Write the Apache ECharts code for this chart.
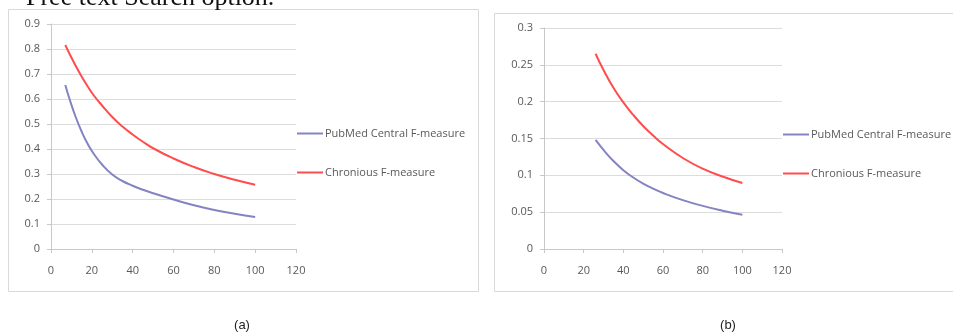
<!DOCTYPE html>
<html>
<head>
<meta charset="utf-8">
<script src="https://cdn.jsdelivr.net/npm/echarts@6/dist/echarts.min.js"></script>
<style>
  html, body { margin: 0; padding: 0; background: #fff; }
  #chart { width: 953px; height: 335px; }
</style>
</head>
<body>
<div id="chart"></div>
<script>
  // chart (a)
  const xA = [7, 9, 12, 15, 18, 21, 25, 30, 35, 40, 45, 50, 60, 70, 80, 90, 100];
  const pubmedA = [0.656, 0.602, 0.53, 0.47, 0.42, 0.38, 0.338, 0.298, 0.272, 0.253, 0.237, 0.223, 0.198, 0.175, 0.156, 0.141, 0.128];
  const chroniousA = [0.816, 0.782, 0.734, 0.69, 0.65, 0.614, 0.574, 0.528, 0.49, 0.458, 0.429, 0.403, 0.362, 0.328, 0.30, 0.277, 0.257];
  // chart (b)
  const xB = [26, 30, 35, 40, 45, 50, 55, 60, 70, 80, 90, 100];
  const pubmedB = [0.148, 0.1345, 0.1195, 0.107, 0.097, 0.0888, 0.082, 0.076, 0.0663, 0.0585, 0.052, 0.0465];
  const chroniousB = [0.265, 0.243, 0.219, 0.199, 0.182, 0.167, 0.154, 0.1425, 0.1235, 0.109, 0.0985, 0.0895];
  const xTicks = [0, 20, 40, 60, 80, 100, 120];

  const seriesNames = ['PubMed Central F-measure', 'Chronious F-measure'];
  const blue = '#8484c2';
  const red = '#ff4d4d';
  const txt = '#595959';
  const font = 'Open Sans';

  function pairs(xs, ys) {
    return xs.map((x, i) => [x, ys[i]]);
  }

  function xAxis(gridIndex) {
    return {
      type: 'value', gridIndex: gridIndex,
      min: xTicks[0], max: xTicks[xTicks.length - 1], interval: 20,
      axisLine: { show: true, lineStyle: { color: '#c8c8c8' } },
      axisTick: { show: true, length: 4, lineStyle: { color: '#c8c8c8' } },
      axisLabel: { color: txt, fontSize: 11, fontFamily: font, margin: 16 },
      splitLine: { show: false }
    };
  }

  function yAxis(gridIndex, max, interval) {
    return {
      type: 'value', gridIndex: gridIndex,
      min: 0, max: max, interval: interval,
      axisLine: { show: true, lineStyle: { color: '#c8c8c8' } },
      axisTick: { show: true, length: 4, lineStyle: { color: '#c8c8c8' } },
      axisLabel: { color: txt, fontSize: 11, fontFamily: font, margin: 11 },
      splitLine: { show: true, lineStyle: { color: '#dcdcdc' } }
    };
  }

  function line(name, idx, data, color) {
    return {
      name: name, type: 'line', xAxisIndex: idx, yAxisIndex: idx,
      data: data, smooth: true, symbol: 'none', silent: true,
      lineStyle: { color: color, width: 2 }, itemStyle: { color: color }
    };
  }

  function legend(left, top) {
    return {
      orient: 'vertical', left: left, top: top, padding: 0,
      icon: 'rect', itemWidth: 26, itemHeight: 2, itemGap: 28,
      selectedMode: false,
      textStyle: { color: txt, fontSize: 11, fontFamily: font, padding: [0, 0, 0, -3] },
      data: seriesNames
    };
  }

  const chart = echarts.init(document.getElementById('chart'));
  chart.setOption({
    animation: false,
    graphic: [
      { type: 'rect', shape: { x: 8.5, y: 9.5, width: 470, height: 282 },
        style: { fill: 'none', stroke: '#d9d9d9', lineWidth: 1 }, z: -1 },
      { type: 'rect', shape: { x: 494.5, y: 13.5, width: 480, height: 278 },
        style: { fill: 'none', stroke: '#d9d9d9', lineWidth: 1 }, z: -1 },
      { type: 'text', x: 26, y: 11,
        style: { text: 'Free text Search option.', fill: '#111', font: '26px "Liberation Serif"', verticalAlign: 'bottom' } },
      { type: 'text', x: 242, y: 325,
        style: { text: '(a)', fill: '#222', font: '13px "Liberation Sans"', align: 'center', verticalAlign: 'middle' } },
      { type: 'text', x: 728, y: 325,
        style: { text: '(b)', fill: '#222', font: '13px "Liberation Sans"', align: 'center', verticalAlign: 'middle' } }
    ],
    grid: [
      { left: 51, top: 24, width: 245, height: 225 },
      { left: 544, top: 28, width: 238, height: 221 }
    ],
    legend: [legend(297, 128), legend(783, 129)],
    xAxis: [xAxis(0), xAxis(1)],
    yAxis: [yAxis(0, 0.9, 0.1), yAxis(1, 0.3, 0.05)],
    series: [
      line(seriesNames[0], 0, pairs(xA, pubmedA), blue),
      line(seriesNames[1], 0, pairs(xA, chroniousA), red),
      line(seriesNames[0], 1, pairs(xB, pubmedB), blue),
      line(seriesNames[1], 1, pairs(xB, chroniousB), red)
    ]
  });
</script>
</body>
</html>
